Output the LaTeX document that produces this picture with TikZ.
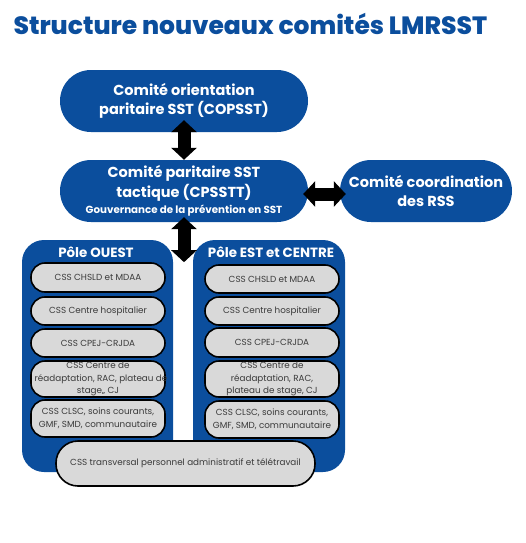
\documentclass[tikz,border=0pt]{standalone}
\usepackage{fontspec}
\setmainfont{Poppins}
\newfontfamily\titlefont{Poppins ExtraBold}
\usetikzlibrary{arrows.meta}
\definecolor{comiteblue}{HTML}{0B4E9D}
\definecolor{cssgray}{HTML}{D9D9D9}
\definecolor{csstext}{HTML}{3A3A3A}
\tikzset{
comite/.style={fill=comiteblue, text=white, align=center, inner sep=0pt,
  font=\bfseries\fontsize{14.5}{19.5}\selectfont, rounded corners=31pt, minimum height=62pt},
pole/.style={fill=comiteblue, rounded corners=22pt, minimum height=232pt, inner sep=0pt},
poletitle/.style={text=white, font=\bfseries\fontsize{13.4}{15}\selectfont},
css/.style={draw=black, line width=1.6pt, fill=cssgray, text=csstext, align=center,
  font=\fontsize{8.8}{12.8}\selectfont, rounded corners=14pt, minimum width=134pt, inner sep=0pt},
lien/.style={line width=13pt, {Triangle[width=25pt,length=12pt]}-{Triangle[width=25pt,length=12pt]}}
}
\begin{document}
\begin{tikzpicture}[x=1pt,y=-1pt]
\useasboundingbox (0,0) rectangle (525,543);
\node[anchor=base west, text=comiteblue, font=\titlefont\fontsize{25}{30}\selectfont] (title) at (10,35) {Structure nouveaux comités LMRSST};
% comites
\node[comite, minimum width=248pt] (copsst) at (184,101) {Comité orientation\\paritaire SST (COPSST)};
\node[comite, minimum width=248pt] (cpsstt) at (184,191) {Comité paritaire SST\\tactique (CPSSTT)\\[-3pt]{\fontsize{10.3}{12}\selectfont Gouvernance de la prévention en SST}};
\node[comite, minimum width=172pt] (rss) at (426,191) {Comité coordination\\des RSS};
% poles
\node[pole, minimum width=151pt] (ouest) at (97.5,356) {};
\node[pole, minimum width=152pt] (est) at (269,356) {};
\node[poletitle] (ouestT) at (96,252) {Pôle OUEST};
\node[poletitle] (estT) at (271,252) {Pôle EST et CENTRE};
\node[css, minimum height=29pt] (o1) at (98,277.5) {CSS CHSLD et MDAA};
\node[css, minimum height=28pt] (o2) at (98,311) {CSS Centre hospitalier};
\node[css, minimum height=28pt] (o3) at (98,343) {CSS CPEJ-CRJDA};
\node[css, minimum height=36pt] (o4) at (98,379) {CSS Centre de\\\makebox[0pt]{\hspace{6pt}réadaptation, RAC, plateau de}\\stage,, CJ};
\node[css, minimum height=37pt] (o5) at (98,418.5) {CSS CLSC, soins courants,\\GMF, SMD, communautaire};
\node[css, minimum height=28pt] (e1) at (272,279) {CSS CHSLD et MDAA};
\node[css, minimum height=28pt] (e2) at (272,311) {CSS Centre hospitalier};
\node[css, minimum height=29pt] (e3) at (272,342.5) {CSS CPEJ-CRJDA};
\node[css, minimum height=36pt] (e4) at (272,379) {CSS Centre de\\réadaptation, RAC,\\plateau de stage, CJ};
\node[css, minimum height=37pt] (e5) at (272,419.5) {CSS CLSC, soins courants,\\GMF, SMD, communautaire};
\node[css, minimum width=259pt, minimum height=45pt, rounded corners=22pt] (transversal) at (185.5,463.5) {CSS transversal personnel administratif et télétravail};
% fleches
\coordinate (fourche) at ([yshift=-40pt]cpsstt.south);
\draw[lien] ([yshift=12pt]copsst.south) -- (cpsstt.north);
\draw[lien] ([yshift=5pt]cpsstt.south) -- (fourche);
\draw[lien] ([xshift=-5pt,yshift=-3pt]cpsstt.east) -- ([xshift=6pt,yshift=-3pt]rss.west);
\end{tikzpicture}
\end{document}
